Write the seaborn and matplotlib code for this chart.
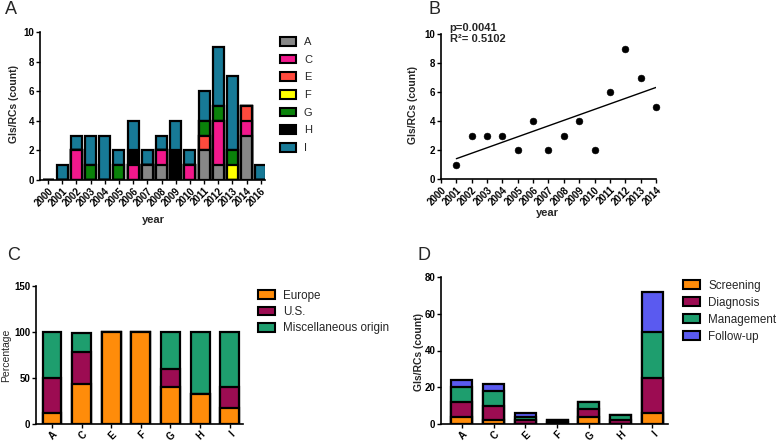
import numpy as np
import matplotlib
matplotlib.use("Agg")
import matplotlib.pyplot as plt
import seaborn as sns
from matplotlib.patches import Patch

sns.set_theme(style="ticks")
plt.rcParams['font.family'] = ['Liberation Sans', 'DejaVu Sans']

# ---- data ----
# panel A: GIs/RCs per year, split by group
years_a = ["2000", "2001", "2002", "2003", "2004", "2005", "2006", "2007",
           "2008", "2009", "2010", "2011", "2012", "2013", "2014", "2016"]
groups_a = ["A", "C", "E", "F", "G", "H", "I"]
a_A = [0, 0, 0, 0, 0, 0, 0, 1, 1, 0, 0, 2, 1, 0, 3, 0]
a_C = [0, 0, 2, 0, 0, 0, 1, 0, 1, 0, 1, 0, 3, 0, 1, 0]
a_E = [0, 0, 0, 0, 0, 0, 0, 0, 0, 0, 0, 1, 0, 0, 1, 0]
a_F = [0, 0, 0, 0, 0, 0, 0, 0, 0, 0, 0, 0, 0, 1, 0, 0]
a_G = [0, 0, 0, 1, 0, 1, 0, 0, 0, 0, 0, 1, 1, 1, 0, 0]
a_H = [0, 0, 0, 0, 0, 0, 1, 0, 0, 2, 0, 0, 0, 0, 0, 0]
a_I = [0, 1, 1, 2, 3, 1, 2, 1, 1, 2, 1, 2, 4, 5, 0, 1]

# panel B: counts per year with linear trend
years_b = [2001, 2002, 2003, 2004, 2005, 2006, 2007, 2008, 2009, 2010, 2011, 2012, 2013, 2014]
counts_b = [1, 3, 3, 3, 2, 4, 2, 3, 4, 2, 6, 9, 7, 5]

# panel C: origin (percentage)
groups_c = ["A", "C", "E", "F", "G", "H", "I"]
c_europe = [12, 44, 100, 100, 40, 33, 17]
c_us = [38, 34, 0, 0, 20, 0, 23]
c_misc = [50, 21, 0, 0, 40, 67, 60]

# panel D: purpose (count)
d_screening = [4, 2, 0, 0, 4, 0, 6]
d_diagnosis = [8, 8, 2, 1, 4, 2, 19]
d_management = [8, 8, 2, 1, 4, 3, 25]
d_followup = [4, 4, 2, 0, 0, 0, 22]

cols_a = ["#878787", "#f2188c", "#ff4a3d", "#ffff00", "#0a820a", "#000000", "#177a97"]
cols_c = ["#ff8c0a", "#9c0c52", "#1e9e6e"]
cols_d = ["#ff8c0a", "#9c0c52", "#1e9e6e", "#5a5af0"]


def stacked(ax, cats, layers, colors, width):
    # draw cumulative heights top layer first, lower layers on top of them
    cum = np.cumsum(np.array(layers), axis=0)
    for i in range(len(layers) - 1, -1, -1):
        sns.barplot(x=cats, y=cum[i], order=cats, color=colors[i], saturation=1,
                    width=width, edgecolor="black", linewidth=1.6, ax=ax)


def style_ax(ax):
    sns.despine(ax=ax)
    for s in ["left", "bottom"]:
        ax.spines[s].set_linewidth(1.2)
        ax.spines[s].set_color("black")
    ax.tick_params(axis="both", length=3, width=1, pad=1, labelsize=7, colors="black")
    for lab in ax.get_yticklabels():
        lab.set_fontweight("bold")
    plt.setp(ax.get_xticklabels(), rotation=45, ha="right", rotation_mode="anchor",
             fontweight="bold")
    ax.set_xlabel("")
    ax.set_ylabel("")


def legend(ax, labels, colors, x, y, fs, spacing):
    handles = [Patch(facecolor=c, edgecolor="black", linewidth=1.5) for c in colors]
    ax.legend(handles, labels, loc="upper left", bbox_to_anchor=(x / 777, 1 - y / 446),
              bbox_transform=fig.transFigure, frameon=False, fontsize=fs,
              handlelength=1.45, handleheight=0.8, handletextpad=0.7,
              labelspacing=spacing, borderpad=0, borderaxespad=0)


fig = plt.figure(figsize=(7.77, 4.46), dpi=100)
axA = fig.add_axes([40 / 777, 1 - 180 / 446, 225 / 777, 148 / 446])
axB = fig.add_axes([441 / 777, 1 - 179 / 446, 215 / 777, 145 / 446])
axC = fig.add_axes([36 / 777, 1 - 424 / 446, 207 / 777, 138 / 446])
axD = fig.add_axes([441 / 777, 1 - 424 / 446, 227 / 777, 147 / 446])

# A
stacked(axA, years_a, [a_A, a_C, a_E, a_F, a_G, a_H, a_I], cols_a, 0.78)
axA.set_xlim(-0.57, 15.3)
axA.set_ylim(0, 10)
axA.set_yticks([0, 2, 4, 6, 8, 10])
style_ax(axA)
legend(axA, groups_a, cols_a, 280, 37, 8, 0.68)

# B
sns.regplot(x=years_b, y=counts_b, ci=None, scatter=False, ax=axB,
            line_kws=dict(color="black", linewidth=1))
sns.scatterplot(x=years_b, y=counts_b, color="black", s=24, edgecolor="black", ax=axB,
                clip_on=False, zorder=3)
axB.set_xlim(2000, 2014)
axB.set_ylim(0, 10)
axB.set_xticks(range(2000, 2015))
axB.set_yticks([0, 2, 4, 6, 8, 10])
style_ax(axB)
axB.text(0.04, 1.075, "p=0.0041\nR²= 0.5102", transform=axB.transAxes, ha="left", va="top",
         fontsize=8, fontweight="bold", linespacing=1.15)

# C
stacked(axC, groups_c, [c_europe, c_us, c_misc], cols_c, 0.64)
axC.set_xlim(-0.54, 6.45)
axC.set_ylim(0, 150)
axC.set_yticks([0, 50, 100, 150])
style_ax(axC)
legend(axC, ["Europe", "U.S.", "Miscellaneous origin"], cols_c, 258, 290, 8.4, 0.35)

# D
stacked(axD, groups_c, [d_screening, d_diagnosis, d_management, d_followup], cols_d, 0.66)
axD.set_xlim(-0.66, 6.49)
axD.set_ylim(0, 80)
axD.set_yticks([0, 20, 40, 60, 80])
style_ax(axD)
legend(axD, ["Screening", "Diagnosis", "Management", "Follow-up"], cols_d, 683, 280, 8.4, 0.42)

# axis labels
fig.text(14.5 / 777, 1 - 104 / 446, "GIs/RCs (count)", rotation=90, ha="center", va="center",
         fontsize=7.5, fontweight="bold")
fig.text(413 / 777, 1 - 105 / 446, "GIs/RCs (count)", rotation=90, ha="center", va="center",
         fontsize=7.5, fontweight="bold")
fig.text(6 / 777, 1 - 355 / 446, "Percentage", rotation=90, ha="center", va="center",
         fontsize=7.5)
fig.text(419 / 777, 1 - 352 / 446, "GIs/RCs (count)", rotation=90, ha="center", va="center",
         fontsize=7.5, fontweight="bold")
fig.text(153 / 777, 1 - 220 / 446, "year", ha="center", va="center", fontsize=8, fontweight="bold")
fig.text(547 / 777, 1 - 213 / 446, "year", ha="center", va="center", fontsize=8, fontweight="bold")

# panel letters
for lab, x, y in [("A", 5, 10), ("B", 428, 10), ("C", 7, 256), ("D", 417, 256)]:
    fig.text(x / 777, 1 - y / 446, lab, ha="left", va="center", fontsize=13)

fig.savefig("out.png", dpi=100)
